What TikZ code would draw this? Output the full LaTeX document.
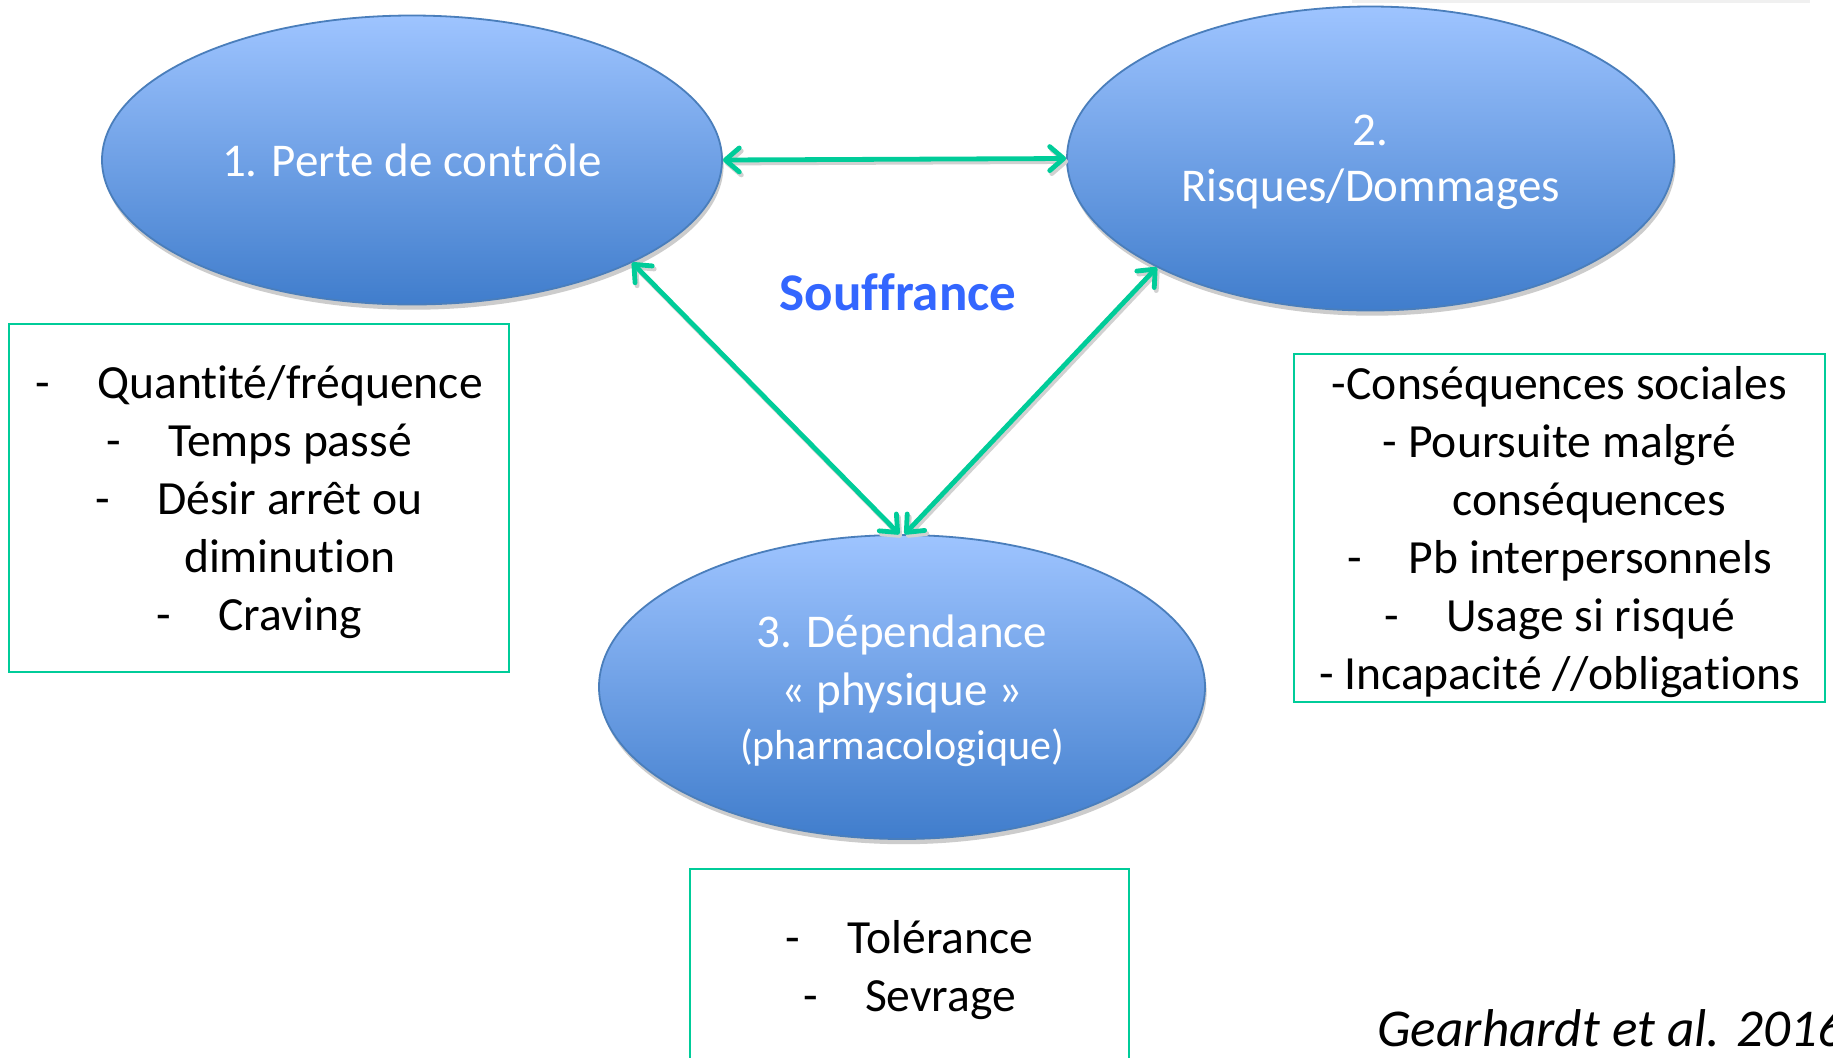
\documentclass[tikz,border=0pt]{standalone}
\usepackage{fontspec}
\setmainfont{Carlito}[Ligatures=NoCommon]
\usetikzlibrary{arrows.meta,shadows,shapes.geometric}
\definecolor{ellTop}{RGB}{158,196,255}
\definecolor{ellBot}{RGB}{64,125,204}
\definecolor{ellLine}{RGB}{74,126,187}
\definecolor{grn}{RGB}{0,204,153}
\definecolor{souf}{RGB}{51,102,255}
\newcommand\dsh{\makebox[31pt][l]{-}}
\tikzset{
  ell/.style={ellipse, draw=ellLine, line width=0.9pt, top color=ellTop, bottom color=ellBot,
    inner sep=0pt, text=white, align=center, font=\fontsize{23.5}{29}\selectfont,
    drop shadow={shadow xshift=0.8pt, shadow yshift=-2.6pt, fill=black!20, opacity=1}},
  box/.style={draw=grn, line width=1pt, align=center, inner sep=0pt, text depth=0pt,
    font=\fontsize{23.8}{29}\selectfont},
  conn/.style={draw=grn, line width=2.4pt, line cap=round, line join=round,
    {Straight Barb[length=7pt,width=12pt,round]}-{Straight Barb[length=7pt,width=12pt,round]}},
  connshadow/.style={conn, draw=black!18}
}
\begin{document}
\begin{tikzpicture}[x=0.5pt,y=-0.5pt]
\fill[white] (0,0) rectangle (1833,1057);
\useasboundingbox (0,0) rectangle (1833,1057);
\draw[black!6, line width=1.5pt] (1352,1) -- (1810,1);

% ellipses
\node[ell, minimum width=310pt, minimum height=144.5pt] (e1) at (412,160) {1. Perte de contrôle};
\node[ell, text depth=0pt, minimum width=303.5pt, minimum height=152pt] (e2) at (1370.5,158.5) {2.\\[-1pt]Risques/Dommages};
\node[ell, text depth=0pt, minimum width=303pt, minimum height=152pt] (e3) at (902,687)
  {3. Dépendance\\« physique »\\[-2pt]{\fontsize{21}{25}\selectfont(pharmacologique)}};

% centre label
\node[text=souf, font=\bfseries\fontsize{26.5}{30}\selectfont] (souf) at (898,292) {Souffrance};

% arrow shadows
\begin{scope}[transform canvas={shift={(1pt,-1.5pt)}}]
\draw[connshadow] (e1.east) -- (e2.west);
\draw[connshadow] (e1.-25) -- (e3.91);
\draw[connshadow] (e2.-153) -- (e3.89);
\end{scope}
% arrows
\draw[conn] (e1.east) -- (e2.west);
\draw[conn] (e1.-25) -- (e3.91);
\draw[conn] (e2.-153) -- (e3.89);

% boxes
\node[box, minimum width=250pt, minimum height=174pt] (b1) at (259,498)
  {\dsh Quantité/fréquence\\
   \dsh Temps passé\\
   \dsh Désir arrêt ou\\
   \hspace*{31pt}diminution\\
   \dsh Craving};
\node[box, minimum width=265.5pt, minimum height=174pt] (b2) at (1559.5,528)
  {-Conséquences sociales\\
   - Poursuite malgré\\
   \hspace*{30pt}conséquences\\
   \dsh Pb interpersonnels\\
   \dsh Usage si risqué\\
   - Incapacité //obligations};
\node[box, minimum width=219.5pt, minimum height=97pt] (b3) at (909.5,966)
  {\dsh Tolérance\\
   \dsh Sevrage};

% citation
\node[anchor=base west, inner sep=0pt, font=\itshape\fontsize{26.6}{30}\selectfont] (cit) at (1377,1046) {Gearhardt et al. 2016};
\end{tikzpicture}
\end{document}
